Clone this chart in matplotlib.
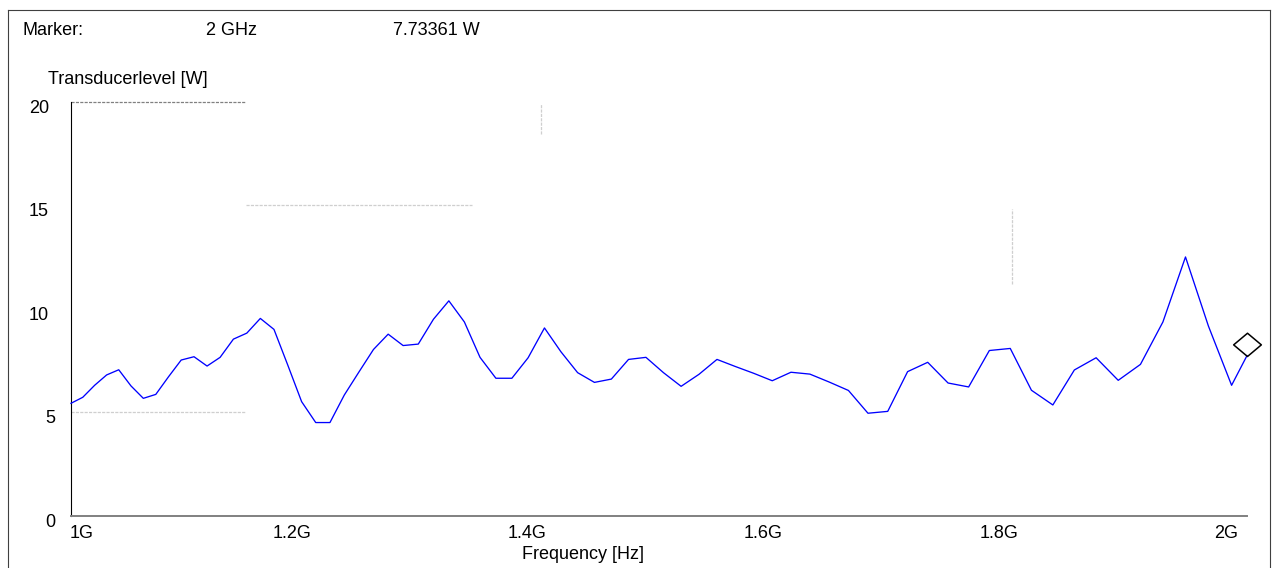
import matplotlib
matplotlib.use("Agg")
import matplotlib.pyplot as plt
import matplotlib.transforms as mtrans
from matplotlib.path import Path
from matplotlib.lines import Line2D

# ---------------- data ----------------
freq_ghz = [1.0000, 1.0100, 1.0201, 1.0303, 1.0406, 1.0510, 1.0615, 1.0721, 1.0829, 1.0937,
            1.1046, 1.1157, 1.1268, 1.1381, 1.1495, 1.1610, 1.1726, 1.1843, 1.1961, 1.2081,
            1.2202, 1.2324, 1.2447, 1.2572, 1.2697, 1.2824, 1.2953, 1.3082, 1.3213, 1.3345,
            1.3478, 1.3613, 1.3749, 1.3887, 1.4026, 1.4166, 1.4308, 1.4451, 1.4595, 1.4741,
            1.4889, 1.5038, 1.5188, 1.5340, 1.5493, 1.5648, 1.5805, 1.5963, 1.6122, 1.6283,
            1.6446, 1.6611, 1.6777, 1.6945, 1.7114, 1.7285, 1.7458, 1.7633, 1.7809, 1.7987,
            1.8167, 1.8349, 1.8532, 1.8717, 1.8905, 1.9094, 1.9285, 1.9477, 1.9672, 1.9869,
            2.0000]
level_w = [5.43, 5.72, 6.30, 6.80, 7.05, 6.27, 5.67, 5.86, 6.71, 7.52,
           7.68, 7.23, 7.65, 8.53, 8.82, 9.53, 9.00, 7.28, 5.51, 4.50,
           4.50, 5.83, 6.93, 8.03, 8.77, 8.22, 8.29, 9.49, 10.38, 9.36,
           7.65, 6.64, 6.64, 7.63, 9.07, 7.92, 6.91, 6.44, 6.60, 7.55,
           7.65, 6.91, 6.25, 6.83, 7.55, 7.21, 6.88, 6.52, 6.93, 6.84,
           6.46, 6.05, 4.95, 5.04, 6.96, 7.41, 6.41, 6.22, 7.98, 8.08,
           6.06, 5.35, 7.04, 7.63, 6.54, 7.31, 9.36, 12.50, 9.16, 6.30,
           7.73361]
marker_freq = 2.0
marker_level = 7.73361
y_ticks = [0, 5, 10, 15, 20]
y_ticklabels = ["0", "5", "10", "15", "20"]
x_ticks = [1.0, 1.2, 1.4, 1.6, 1.8, 2.0]
x_ticklabels = ["1G", "1.2G", "1.4G", "1.6G", "1.8G", "2G"]
header_texts = ["Marker:", "2 GHz", "7.73361 W"]

# ---------------- layout ----------------
W, H, DPI = 1273, 568, 100
plt.rcParams['font.family'] = ['Liberation Sans', 'DejaVu Sans']
FS = 13

fig = plt.figure(figsize=(W / DPI, H / DPI), dpi=DPI)
fig.patch.set_facecolor('white')

def fx(px):
    return px / W

def fy(py):
    return 1 - py / H

ax_l, ax_r, ax_t, ax_b = 71, 1247, 101.7, 515.7
ax = fig.add_axes([fx(ax_l), fy(ax_b), fx(ax_r) - fx(ax_l), fy(ax_t) - fy(ax_b)])
ax.set_xlim(1.0, 2.0)
ax.set_ylim(0, 20)
ax.set_xticks([])
ax.set_yticks([])
ax.patch.set_alpha(0)
for s in ['top', 'right']:
    ax.spines[s].set_visible(False)
ax.spines['left'].set_color('black')
ax.spines['left'].set_linewidth(0.8)
ax.spines['bottom'].set_color('#808080')
ax.spines['bottom'].set_linewidth(1.4)

# partial grid fragments (as rendered in the original)
ax.plot([1.0, 1.148], [20, 20], color='#808080', lw=0.9, ls=(0, (2.5, 1)), clip_on=False)
light = dict(color='#cfcfcf', lw=0.9, ls=(0, (2.5, 1)), clip_on=False)
ax.plot([1.0, 1.149], [5, 5], **light)
ax.plot([1.149, 1.341], [15, 15], **light)
ax.plot([1.4, 1.4], [18.45, 19.9], **light)
ax.plot([1.8, 1.8], [11.2, 14.8], **light)

# data trace
ax.plot(freq_ghz, level_w, color='#0000ff', lw=0.95, clip_on=False, zorder=3)

# marker diamond (bottom vertex at marker point)
dverts = [(0, 0), (1, 0.84), (0, 1.68), (-1, 0.84), (0, 0)]
dcodes = [Path.MOVETO, Path.LINETO, Path.LINETO, Path.LINETO, Path.CLOSEPOLY]
ax.plot([marker_freq], [marker_level], marker=Path(dverts, dcodes), ms=33.5,
        mfc='none', mec='black', mew=1.1, ls='none', clip_on=False, zorder=4)

# y tick labels
for v, lab in zip(y_ticks, y_ticklabels):
    dx = -22 if len(lab) == 2 else -16
    tr = ax.get_yaxis_transform() + mtrans.ScaledTranslation(dx / DPI, -11 / DPI, fig.dpi_scale_trans)
    ax.text(0, v, lab, transform=tr, ha='right', va='baseline', fontsize=FS, color='black')

# x tick labels
x_dx = [11, -14, -14, -13.5, -13, -20.5]
for v, lab, dx in zip(x_ticks, x_ticklabels, x_dx):
    tr = ax.get_xaxis_transform() + mtrans.ScaledTranslation(dx / DPI, -22.3 / DPI, fig.dpi_scale_trans)
    ax.text(v, 0, lab, transform=tr, ha='center', va='baseline', fontsize=FS, color='black')

# axis titles
fig.text(fx(48), fy(84), "Transducerlevel [W]", ha='left', va='baseline', fontsize=FS)
fig.text(fx(583), fy(559), "Frequency [Hz]", ha='center', va='baseline', fontsize=FS)

# header
for px, t in zip([23, 206, 393], header_texts):
    fig.text(fx(px), fy(35), t, ha='left', va='baseline', fontsize=FS)

# outer frame (bottom edge lies outside the image)
frame = dict(color='#404040', lw=0.8, transform=fig.transFigure)
fig.add_artist(Line2D([fx(7.5), fx(7.5)], [fy(10), fy(575)], **frame))
fig.add_artist(Line2D([fx(7.5), fx(1269.5)], [fy(10), fy(10)], **frame))
fig.add_artist(Line2D([fx(1269.5), fx(1269.5)], [fy(10), fy(575)], **frame))

fig.savefig("out.png", dpi=DPI, facecolor='white')
